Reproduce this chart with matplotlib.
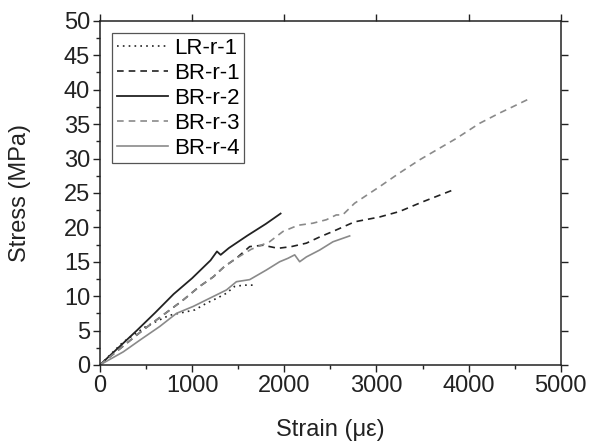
import numpy as np
import matplotlib
matplotlib.use('Agg')
import matplotlib.pyplot as plt
from matplotlib.ticker import MultipleLocator

plt.rcParams['font.family'] = ['Liberation Sans', 'DejaVu Sans']

# LR-r-1 (dotted)
lr1_x = [0, 250, 500, 750, 1030, 1160, 1270, 1370, 1460, 1560, 1680]
lr1_y = [0, 3.3, 5.6, 7.2, 8.0, 9.0, 9.7, 10.4, 11.4, 11.6, 11.6]
# BR-r-1 (black dashed)
br1_x = [0, 470, 900, 1080, 1230, 1350, 1480, 1625, 1770, 1932, 2077, 2240, 2384, 2527, 2763, 3033, 3250, 3500, 3825]
br1_y = [0, 5.1, 9.4, 11.4, 12.8, 14.3, 15.5, 17.2, 17.4, 16.95, 17.2, 17.7, 18.6, 19.4, 20.8, 21.5, 22.3, 23.7, 25.4]
# BR-r-2 (black solid)
br2_x = [0, 200, 400, 600, 800, 1000, 1200, 1270, 1310, 1400, 1600, 1800, 1960]
br2_y = [0, 2.5, 5.0, 7.6, 10.3, 12.6, 15.2, 16.5, 16.0, 17.0, 18.8, 20.5, 22.0]
# BR-r-3 (gray dashed)
br3_x = [0, 470, 900, 1080, 1230, 1350, 1480, 1640, 1840, 1986, 2150, 2310, 2456, 2564, 2633, 2763,
         3033, 3250, 3467, 3864, 4117, 4334, 4475, 4676]
br3_y = [0, 5.1, 9.4, 11.4, 12.8, 14.3, 15.5, 16.8, 17.9, 19.4, 20.3, 20.6, 21.1, 21.8, 21.8, 23.5,
         25.9, 27.9, 29.8, 32.9, 35.1, 36.6, 37.5, 38.8]
# BR-r-4 (gray solid)
br4_x = [0, 253, 433, 650, 831, 1011, 1192, 1373, 1481, 1625, 1806, 1950, 2040, 2113, 2167, 2240, 2384, 2528, 2709]
br4_y = [0, 1.9, 3.6, 5.6, 7.5, 8.5, 9.7, 10.9, 12.1, 12.4, 13.8, 15.0, 15.5, 16.0, 15.0, 15.7, 16.7, 17.9, 18.75]

dark = '#222222'
gray = '#8a8a8a'

fig = plt.figure(figsize=(5.91, 4.44), dpi=100)
ax = fig.add_axes([0.169, 0.178, 0.780, 0.775])

ax.plot(lr1_x, lr1_y, color=dark, lw=1.2, linestyle=(0, (1, 2.5)), label='LR-r-1')
ax.plot(br1_x, br1_y, color=dark, lw=1.2, linestyle=(0, (4, 3)), label='BR-r-1')
ax.plot(br2_x, br2_y, color=dark, lw=1.3, label='BR-r-2')
ax.plot(br3_x, br3_y, color=gray, lw=1.2, linestyle=(0, (4, 3)), label='BR-r-3')
ax.plot(br4_x, br4_y, color=gray, lw=1.2, label='BR-r-4')

ax.set_xlim(0, 5000)
ax.set_ylim(0, 50)
ax.xaxis.set_major_locator(MultipleLocator(1000))
ax.xaxis.set_minor_locator(MultipleLocator(500))
ax.yaxis.set_major_locator(MultipleLocator(5))
ax.yaxis.set_minor_locator(MultipleLocator(2.5))
ax.tick_params(which='both', direction='out', top=True, right=True, labelsize=17, colors='#222222')
ax.tick_params(which='major', length=5, width=1, pad=2)
ax.tick_params(which='minor', length=3, width=1, top=False, right=False)
for s in ax.spines.values():
    s.set_linewidth(1.1)
    s.set_color('#222222')

ax.set_xlabel('Strain (\u03bc\u03b5)', fontsize=17, color='#222222', labelpad=16)
ax.set_ylabel('Stress (MPa)', fontsize=17, color='#222222', labelpad=24)

leg = ax.legend(loc='upper left', fontsize=16, handlelength=2.3, handletextpad=0.3,
                labelspacing=0.18, borderpad=0.2, borderaxespad=0.55, fancybox=False,
                framealpha=1)
leg.get_frame().set_edgecolor('#555555')
leg.get_frame().set_linewidth(0.9)

fig.savefig('out.png', dpi=100)
